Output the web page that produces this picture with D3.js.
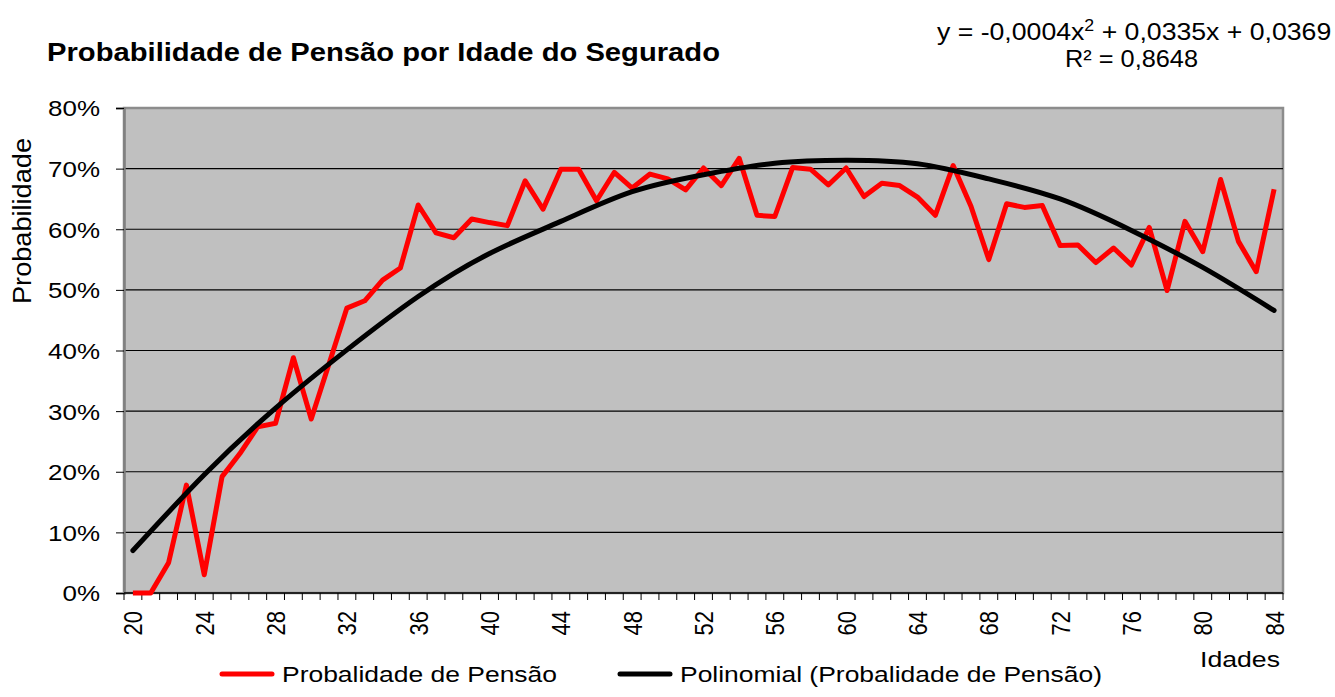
<!DOCTYPE html>
<html>
<head>
<meta charset="utf-8">
<script src="https://cdn.jsdelivr.net/npm/d3@7/dist/d3.min.js"></script>
<style>
body { margin: 0; background: #fff; }
text { font-family: "Liberation Sans", Arial, sans-serif; }
</style>
</head>
<body>
<svg id="graph"></svg>
<script>
// idades 20..84
var idades = d3.range(20, 85)
var probabilidade = [
  0, 0, 5, 17.8, 3, 19.2, 23, 27.4, 28, 38.8,
  28.7, 37.8, 47, 48.2, 51.6, 53.6, 64, 59.4, 58.6, 61.7,
  61.1, 60.6, 68, 63.3, 69.9, 69.9, 64.7, 69.4, 66.8, 69.1,
  68.3, 66.5, 70.1, 67.2, 71.7, 62.3, 62.1, 70.2, 69.9, 67.3,
  70.1, 65.4, 67.6, 67.2, 65.3, 62.3, 70.5, 63.8, 55, 64.2,
  63.6, 63.9, 57.3, 57.4, 54.5, 56.9, 54.1, 60.3, 49.9, 61.3,
  56.3, 68.2, 58, 53, 66.6
]
// linha de tendencia
var tendIdades = [20, 24, 28, 32, 36, 40, 44, 48, 52, 56, 60, 64, 68, 72, 76, 80, 84]
var tendValores = [7, 19.5, 30.5, 40.1, 48.9, 56, 61.3, 66.2, 69, 70.9, 71.4, 70.8, 68.3, 65, 59.8, 53.7, 46.6]
var yTicks = [0, 10, 20, 30, 40, 50, 60, 70, 80]
var xLabels = d3.range(20, 85, 4)

var screen = {width: 1335, height: 697}
var plot = {left: 124, top: 108, right: 1283, bottom: 593}

// o texto do original parece esticado na horizontal
var stretch = function (sel, k) {
  sel.each(function () {
    var w = this.getComputedTextLength()
    d3.select(this).attr("textLength", w * k).attr("lengthAdjust", "spacingAndGlyphs")
  })
}

var svg = d3.select("#graph")
  .attr("width", screen.width)
  .attr("height", screen.height)

var xScale = d3.scaleBand()
  .domain(idades)
  .range([plot.left, plot.right])
var xPos = function (a) { return xScale(a) + xScale.bandwidth() / 2 }

var yScale = d3.scaleLinear()
  .domain([0, 80])
  .range([plot.bottom, plot.top])

svg.append("rect")
  .attr("x", plot.left).attr("y", plot.top)
  .attr("width", plot.right - plot.left).attr("height", plot.bottom - plot.top)
  .attr("fill", "#c0c0c0")
  .attr("stroke", "#8c8c8c").attr("stroke-width", 2.5)

// grade
svg.append("g").selectAll("line")
  .data(yTicks.slice(1, -1))
  .enter().append("line")
  .attr("x1", plot.left).attr("x2", plot.right)
  .attr("y1", function (d) { return yScale(d) })
  .attr("y2", function (d) { return yScale(d) })
  .attr("stroke", "#000").attr("stroke-width", 1.2)

// eixo y
var yAxis = d3.axisLeft(yScale)
  .tickValues(yTicks)
  .tickSize(8)
  .tickPadding(16)
  .tickFormat(function (d) { return d + "%" })
var gy = svg.append("g")
  .attr("transform", "translate(" + plot.left + ",0)")
  .call(yAxis)
gy.select(".domain").attr("stroke", "#808080").attr("stroke-width", 2.5)
gy.selectAll(".tick line").attr("stroke", "#000")
gy.selectAll(".tick text").attr("font-size", 22).attr("fill", "#000")
  .attr("font-family", "Liberation Sans, Arial, sans-serif")
  .attr("dy", "0.36em")
stretch(gy.selectAll(".tick text"), 1.18)

// eixo x: marcas entre categorias
var bounds = idades.map(function (a) { return xScale(a) }).concat([plot.right])
svg.append("g").selectAll("line")
  .data(bounds)
  .enter().append("line")
  .attr("x1", function (d) { return d }).attr("x2", function (d) { return d })
  .attr("y1", plot.bottom).attr("y2", plot.bottom + 7)
  .attr("stroke", "#000").attr("stroke-width", 1)
svg.append("line")
  .attr("x1", plot.left).attr("x2", plot.right)
  .attr("y1", plot.bottom).attr("y2", plot.bottom)
  .attr("stroke", "#000").attr("stroke-width", 1.5)

svg.append("g").selectAll("text")
  .data(xLabels)
  .enter().append("text")
  .attr("transform", function (d) { return "translate(" + (xPos(d) + 9.5) + "," + (plot.bottom + 18) + ") rotate(-90) scale(1,1.18)" })
  .attr("text-anchor", "end")
  .attr("font-size", 22)
  .text(function (d) { return d })

// linhas
var lineReal = d3.line()
  .x(function (d, i) { return xPos(idades[i]) })
  .y(function (d) { return yScale(d) })
svg.append("path")
  .datum(probabilidade)
  .attr("d", lineReal)
  .attr("fill", "none").attr("stroke", "#ff0000")
  .attr("stroke-width", 5).attr("stroke-linejoin", "round")

var lineTend = d3.line()
  .x(function (d, i) { return xPos(tendIdades[i]) })
  .y(function (d) { return yScale(d) })
  .curve(d3.curveNatural)
svg.append("path")
  .datum(tendValores)
  .attr("d", lineTend)
  .attr("fill", "none").attr("stroke", "#000")
  .attr("stroke-width", 5).attr("stroke-linecap", "round")

// textos
svg.append("text")
  .attr("x", 47).attr("y", 61)
  .attr("font-size", 26).attr("font-weight", "bold")
  .attr("textLength", 673).attr("lengthAdjust", "spacingAndGlyphs")
  .text("Probabilidade de Pensão por Idade do Segurado")

var eq = svg.append("text")
  .attr("x", 937).attr("y", 40)
  .attr("font-size", 24)
eq.append("tspan").text("y = -0,0004x")
eq.append("tspan").attr("font-size", 16).attr("dy", -9).text("2")
eq.append("tspan").attr("dy", 9).text(" + 0,0335x + 0,0369")
stretch(eq.selectAll("tspan"), 1.11)
svg.append("text")
  .attr("x", 1065).attr("y", 67)
  .attr("font-size", 24)
  .attr("textLength", 133).attr("lengthAdjust", "spacingAndGlyphs")
  .text("R² = 0,8648")

svg.append("text")
  .attr("transform", "translate(31,221) rotate(-90) scale(1,1.15)")
  .attr("text-anchor", "middle").attr("font-size", 23)
  .attr("textLength", 166).attr("lengthAdjust", "spacingAndGlyphs")
  .text("Probabilidade")

svg.append("text")
  .attr("x", 1200).attr("y", 667)
  .attr("font-size", 22)
  .attr("textLength", 80).attr("lengthAdjust", "spacingAndGlyphs")
  .text("Idades")

// legenda
var legenda = [
  {nome: "Probalidade de Pensão", cor: "#ff0000", x: 222, largura: 275},
  {nome: "Polinomial (Probalidade de Pensão)", cor: "#000", x: 620, largura: 422}
]
var lg = svg.append("g").selectAll("g")
  .data(legenda)
  .enter().append("g")
  .attr("transform", function (d) { return "translate(" + d.x + ",674)" })
lg.append("line")
  .attr("x1", 0).attr("x2", 50)
  .attr("stroke", function (d) { return d.cor })
  .attr("stroke-width", 5).attr("stroke-linecap", "round")
lg.append("text")
  .attr("x", 60).attr("y", 8)
  .attr("font-size", 22)
  .attr("textLength", function (d) { return d.largura })
  .attr("lengthAdjust", "spacingAndGlyphs")
  .text(function (d) { return d.nome })
</script>
</body>
</html>
